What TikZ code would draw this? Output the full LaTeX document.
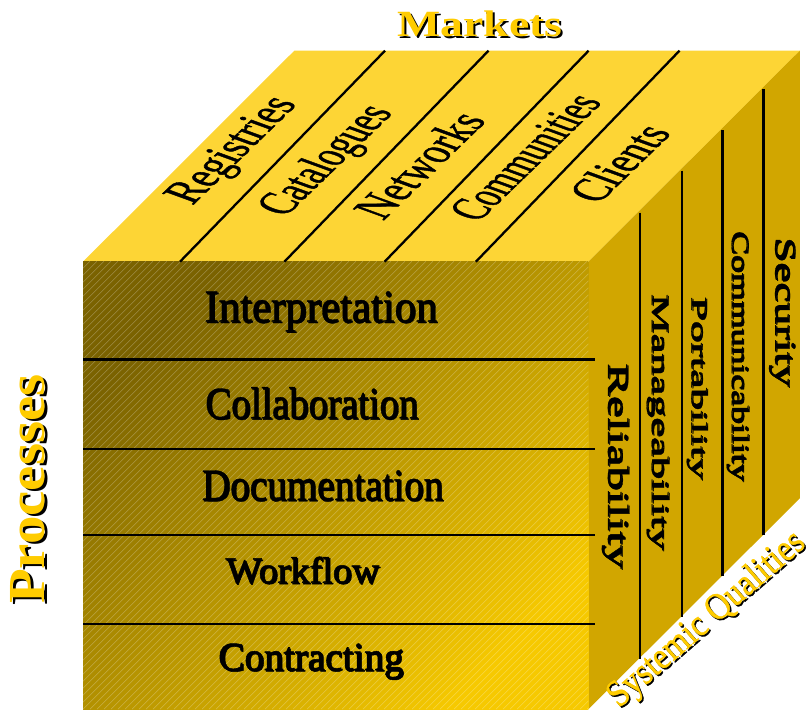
\documentclass[tikz,border=0pt]{standalone}
\usepackage{fontspec}
\setmainfont{Liberation Serif}
\newfontfamily\heavyserif{Liberation Serif}[FakeBold=1.3]
\newfontfamily\midserif{Liberation Serif}[FakeBold=0.8]
\usepackage{graphicx}
\definecolor{topc}{HTML}{FDD535}
\definecolor{rightc}{HTML}{D1A600}
\definecolor{frontdark}{HTML}{7A6200}
\definecolor{frontlight}{HTML}{F6C900}
\definecolor{goldtxt}{HTML}{FFCC00}
\newcommand{\fs}[1]{\fontsize{#1}{#1}\selectfont}
\begin{document}
\begin{tikzpicture}[x=1pt,y=-1pt,
  lbl/.style={inner sep=0pt, outer sep=0pt, text=black},
  shd/.style={inner sep=0pt, outer sep=0pt, text=black},
  gold/.style={inner sep=0pt, outer sep=0pt, text=goldtxt},
  frontsep/.style={line width=2.4pt, black},
  topsep/.style={line width=2.3pt, black},
  rightsep/.style={line width=2.6pt, black},
  hatch/.style={white, opacity=0.28, line width=0.5pt},
  topface/.style={cm={0.719,0.695,-0.940,0.342,(0,0)}, transform shape}
]
\useasboundingbox (0,0) rectangle (812,713);

% cube corners
\coordinate (FTL) at (83,261.7);
\coordinate (FTR) at (588.3,261.7);
\coordinate (FBR) at (588.3,709.3);
\coordinate (FBL) at (83,709.3);
\coordinate (BTL) at (294.3,50.7);
\coordinate (BTR) at (799.8,50.7);
\coordinate (BBR) at (799.8,498.3);

% faces
\fill[topc] (FTL) -- (BTL) -- (BTR) -- (FTR) -- cycle;
\fill[rightc] (FTR) -- (BTR) -- (BBR) -- (FBR) -- cycle;
\shade[top color=frontdark, bottom color=frontlight, shading angle=45] (FTL) rectangle (FBR);
\begin{scope}
  \clip (FTL) rectangle (FBR);
  \foreach \i in {0,...,137} \draw[hatch] ({83-448+7*\i},709.3) -- ++(448,-448);
\end{scope}

% front separators
\foreach \yy in {359.3,448.7,535,624} \draw[frontsep] (83,\yy) -- (595,\yy);

% top separators
\draw[topsep] (180,261.7) -- (385,50.7);
\draw[topsep] (284.4,261.7) -- (488.5,50.7);
\draw[topsep] (384.6,261.7) -- (588.6,50.7);
\draw[topsep] (475.9,261.7) -- (679.5,50.7);

% right separators
\foreach \xx in {640,682,722.5,763.3}
  \draw[rightsep] (\xx,{261.7-(\xx-588.3)+2.5}) -- (\xx,{709.3-(\xx-588.3)+1});

% front labels
\node[shd, anchor=base, font=\midserif\fs{46}] at (322,323) {\scalebox{0.93}[1]{Interpretation}};
\node[lbl, anchor=base, font=\midserif\fs{46}] (interp) at (320.8,321.7) {\scalebox{0.93}[1]{Interpretation}};
\node[shd, anchor=base, font=\midserif\fs{45}] at (312.9,419.6) {\scalebox{0.86}[1]{Collaboration}};
\node[lbl, anchor=base, font=\midserif\fs{45}] (collab) at (311.7,418.3) {\scalebox{0.86}[1]{Collaboration}};
\node[shd, anchor=base, font=\midserif\fs{45}] at (323.7,501.3) {\scalebox{0.87}[1]{Documentation}};
\node[lbl, anchor=base, font=\midserif\fs{45}] (docu) at (322.5,500) {\scalebox{0.87}[1]{Documentation}};
\node[shd, anchor=base, font=\heavyserif\fs{37}] at (303.7,584) {\scalebox{1.03}[1]{Workflow}};
\node[lbl, anchor=base, font=\heavyserif\fs{37}] (work) at (302.5,582.7) {\scalebox{1.03}[1]{Workflow}};
\node[shd, anchor=base, font=\heavyserif\fs{40}] at (312,671.3) {\scalebox{0.98}[1]{Contracting}};
\node[lbl, anchor=base, font=\heavyserif\fs{40}] (contr) at (310.8,670) {\scalebox{0.98}[1]{Contracting}};

% top labels (sheared onto the top face)
\begin{scope}[shift={(234.5,151)}, topface]
  \node[lbl, font=\heavyserif\fs{50}] (reg) {\scalebox{0.73}[1]{Registries}};
\end{scope}
\begin{scope}[shift={(328,161)}, topface]
  \node[lbl, font=\heavyserif\fs{50}] (cat) {\scalebox{0.678}[1]{Catalogues}};
\end{scope}
\begin{scope}[shift={(419,165)}, topface]
  \node[lbl, font=\heavyserif\fs{50}] (net) {\scalebox{0.743}[1]{Networks}};
\end{scope}
\begin{scope}[shift={(525,157)}, topface]
  \node[lbl, font=\heavyserif\fs{50}] (com) {\scalebox{0.642}[1]{Communities}};
\end{scope}
\begin{scope}[shift={(619,163)}, topface]
  \node[lbl, font=\heavyserif\fs{50}] (cli) {\scalebox{0.725}[1]{Clients}};
\end{scope}

% right labels
\node[shd, rotate=-90, font=\midserif\fs{29}] at (616.2,467) {\scalebox{1.68}[1]{Reliability}};
\node[lbl, rotate=-90, font=\midserif\fs{29}] (rel) at (615,466) {\scalebox{1.68}[1]{Reliability}};
\node[shd, rotate=-90, font=\midserif\fs{24}] at (658.7,423) {\scalebox{1.85}[1]{Manageability}};
\node[lbl, rotate=-90, font=\midserif\fs{24}] (man) at (657.5,422) {\scalebox{1.85}[1]{Manageability}};
\node[shd, rotate=-90, font=\midserif\fs{22}] at (697.9,389) {\scalebox{1.97}[1]{Portability}};
\node[lbl, rotate=-90, font=\midserif\fs{22}] (port) at (696.7,388) {\scalebox{1.97}[1]{Portability}};
\node[shd, rotate=-90, font=\midserif\fs{24}] at (738.7,357) {\scalebox{1.49}[1]{Communicability}};
\node[lbl, rotate=-90, font=\midserif\fs{24}] (comm) at (737.5,356) {\scalebox{1.49}[1]{Communicability}};
\node[shd, rotate=-90, font=\midserif\fs{29}] at (782.9,313) {\scalebox{1.55}[1]{Security}};
\node[lbl, rotate=-90, font=\midserif\fs{29}] (sec) at (781.7,312) {\scalebox{1.55}[1]{Security}};

% axis titles
\node[shd, anchor=base, font=\bfseries\fs{37}] at (482,38) {\scalebox{1.235}[1]{Markets}};
\node[gold, anchor=base, font=\bfseries\fs{37}] (markets) at (480,36) {\scalebox{1.235}[1]{Markets}};
\node[shd, anchor=base, rotate=90, font=\bfseries\fs{52}] at (47,491) {\scalebox{1.095}[1]{Processes}};
\node[gold, anchor=base, rotate=90, font=\bfseries\fs{52}] (proc) at (45,489) {\scalebox{1.095}[1]{Processes}};
\node[shd, rotate=41, font=\midserif\fs{38}] at (708.5,621.5) {\scalebox{0.87}[1]{Systemic Qualities}};
\node[gold, rotate=41, font=\midserif\fs{38}] (sysq) at (707,620) {\scalebox{0.87}[1]{Systemic Qualities}};
\end{tikzpicture}
\end{document}
